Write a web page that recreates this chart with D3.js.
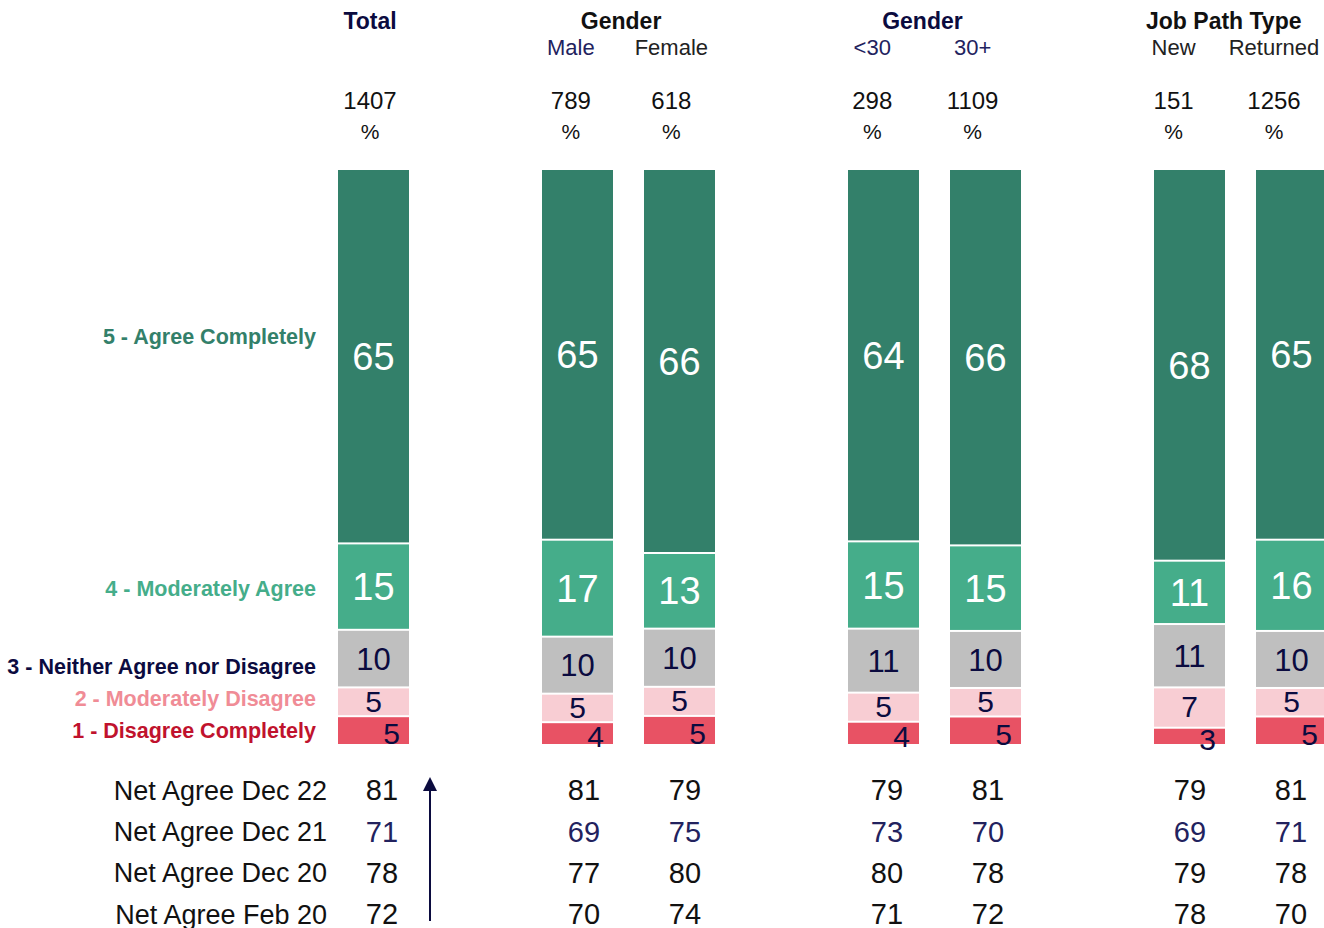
<!DOCTYPE html>
<html>
<head>
<meta charset="utf-8">
<script src="https://cdn.jsdelivr.net/npm/d3@7"></script>
<style>
  body { margin: 0; background: #fff; }
  svg { display: block; }
</style>
</head>
<body>
<div id="chart"></div>
<script>
// Columns and their groups
var groupTitles = ["Total", "Gender", "Gender", "Job Path Type"];
var columnGroup = [0, 1, 1, 2, 2, 3, 3];
var subLabels = ["", "Male", "Female", "<30", "30+", "New", "Returned"];
var bases = [1407, 789, 618, 298, 1109, 151, 1256];

// Response levels, top of the bar first
var levels = ["5 - Agree Completely", "4 - Moderately Agree", "3 - Neither Agree nor Disagree",
  "2 - Moderately Disagree", "1 - Disagree Completely"];
var agreeCompletely = [65, 65, 66, 64, 66, 68, 65];
var moderatelyAgree = [15, 17, 13, 15, 15, 11, 16];
var neither = [10, 10, 10, 11, 10, 11, 10];
var moderatelyDisagree = [5, 5, 5, 5, 5, 7, 5];
var disagreeCompletely = [5, 4, 5, 4, 5, 3, 5];

// Net agree rows
var netLabels = ["Net Agree Dec 22", "Net Agree Dec 21", "Net Agree Dec 20", "Net Agree Feb 20"];
var netDec22 = [81, 81, 79, 79, 81, 79, 81];
var netDec21 = [71, 69, 75, 73, 70, 69, 71];
var netDec20 = [78, 77, 80, 80, 78, 79, 78];
var netFeb20 = [72, 70, 74, 71, 72, 78, 70];

var width = 1324, height = 928;
var navy = "#0b0b3f", navySoft = "#22225e";
var segColors = ["#33806a", "#45ad8a", "#bfbfbf", "#f8cdd3", "#e85264"];
var legendColors = ["#33806a", "#45ad8a", "#0b0b3f", "#f08c96", "#c0122d"];
var labelColors = ["#ffffff", "#ffffff", navy, navy, navy];
var labelSizes = ["38px", "38px", "31px", "30px", "30px"];
// the thin bottom labels sit to the right so they clear the pink ones
var labelDx = [0, 0, 0, 0, 18];
var labelDy = [0, 0, 0, -1, 3];

var sans = '"Liberation Sans", Arial, sans-serif';
var narrow = '"Liberation Sans Narrow", "Arial Narrow", "Liberation Sans", sans-serif';

var svg = d3.select("#chart").append("svg")
  .attr("width", width)
  .attr("height", height);

// one slot per column plus an empty slot between groups
var slots = columnGroup.map(function(g, i) { return i + g; });

var x = d3.scaleLinear().domain([0, 9]).range([373.5, 1291.5]);
var xHead = d3.scaleLinear().domain([0, 9]).range([370, 1274]);
var xNet = d3.scaleLinear().domain([0, 9]).range([382, 1291]);
var barWidth = 71;
var y = d3.scaleLinear().domain([0, 1]).range([745, 169]);

var series = [agreeCompletely, moderatelyAgree, neither, moderatelyDisagree, disagreeCompletely];
var rows = subLabels.map(function(d, i) {
  var r = { col: i };
  levels.forEach(function(l, k) { r[l] = series[k][i]; });
  return r;
});
// stack from the bottom (level 1) upward, expanded to the full bar height
var stacked = d3.stack()
  .keys(levels.slice().reverse())
  .offset(d3.stackOffsetExpand)(rows);

stacked.forEach(function(layer) {
  var k = levels.indexOf(layer.key);
  svg.append("g").attr("class", "layer").selectAll("rect")
    .data(layer)
    .enter().append("rect")
      .attr("x", function(d, i) { return x(slots[i]) - barWidth / 2; })
      .attr("y", function(d) { return y(d[1]) + 1; })
      .attr("width", barWidth)
      .attr("height", function(d) { return Math.max(0, y(d[0]) - y(d[1]) - 2); })
      .style("fill", segColors[k]);
});
// labels drawn after all rects so nothing hides them
stacked.forEach(function(layer) {
  var k = levels.indexOf(layer.key);
  svg.append("g").selectAll("text")
    .data(layer)
    .enter().append("text")
      .text(function(d, i) { return series[k][i]; })
      .attr("x", function(d, i) { return x(slots[i]) + labelDx[k]; })
      .attr("y", function(d) { return (y(d[0]) + y(d[1])) / 2 + labelDy[k]; })
      .attr("dy", "0.36em")
      .style("text-anchor", "middle")
      .style("font-family", sans)
      .style("font-size", labelSizes[k])
      .style("fill", labelColors[k]);
});

// Legend labels beside the Total bar
var totalLayers = {};
stacked.forEach(function(layer) { totalLayers[layer.key] = layer[0]; });
var legendShift = [-20, 2, 8, -4, 0];
svg.selectAll(".legend")
  .data(levels)
  .enter().append("text")
    .attr("class", "legend")
    .text(function(d) { return d; })
    .attr("x", 316)
    .attr("y", function(d, k) {
      var s = totalLayers[d];
      return (y(s[0]) + y(s[1])) / 2 + legendShift[k];
    })
    .attr("dy", "0.36em")
    .style("text-anchor", "end")
    .style("font-family", narrow)
    .style("font-weight", "bold")
    .style("font-size", "21.5px")
    .style("fill", function(d, k) { return legendColors[k]; });

// Header: group titles
var groupCols = groupTitles.map(function(t, gi) {
  return slots.filter(function(s, i) { return columnGroup[i] == gi; });
});
svg.selectAll(".group-title")
  .data(groupTitles)
  .enter().append("text")
    .text(function(d) { return d; })
    .attr("x", function(d, gi) { return xHead(d3.mean(groupCols[gi])); })
    .attr("y", 21)
    .attr("dy", "0.36em")
    .style("text-anchor", "middle")
    .style("font-family", narrow)
    .style("font-weight", "bold")
    .style("font-size", "23px")
    .style("fill", function(d, gi) { return (gi == 0 || gi == 2) ? navy : "#111"; });

var subColors = [navy, navySoft, "#222", navySoft, navySoft, "#222", "#222"];
svg.selectAll(".sub-label")
  .data(subLabels)
  .enter().append("text")
    .text(function(d) { return d; })
    .attr("x", function(d, i) { return xHead(slots[i]); })
    .attr("y", 47)
    .attr("dy", "0.36em")
    .style("text-anchor", "middle")
    .style("font-family", sans)
    .style("font-size", "22px")
    .style("fill", function(d, i) { return subColors[i]; });

svg.selectAll(".base")
  .data(bases)
  .enter().append("text")
    .text(function(d) { return d; })
    .attr("x", function(d, i) { return xHead(slots[i]); })
    .attr("y", 100)
    .attr("dy", "0.36em")
    .style("text-anchor", "middle")
    .style("font-family", sans)
    .style("font-size", "24px")
    .style("fill", "#111");

svg.selectAll(".pct")
  .data(bases)
  .enter().append("text")
    .text("%")
    .attr("x", function(d, i) { return xHead(slots[i]); })
    .attr("y", 131)
    .attr("dy", "0.36em")
    .style("text-anchor", "middle")
    .style("font-family", sans)
    .style("font-size", "21px")
    .style("fill", "#111");

// Net agree rows
var netRows = [netDec22, netDec21, netDec20, netFeb20];
var yNet = d3.scalePoint().domain(netLabels).range([790, 914]);
netLabels.forEach(function(label, r) {
  var color = r == 1 ? navySoft : "#111";
  svg.append("text")
    .text(label)
    .attr("x", 327)
    .attr("y", yNet(label))
    .attr("dy", "0.36em")
    .style("text-anchor", "end")
    .style("font-family", narrow)
    .style("font-size", "27px")
    .style("fill", "#111");
  svg.selectAll(".net-" + r)
    .data(netRows[r])
    .enter().append("text")
      .text(function(d) { return d; })
      .attr("x", function(d, i) { return xNet(slots[i]); })
      .attr("y", yNet(label))
      .attr("dy", "0.36em")
      .style("text-anchor", "middle")
      .style("font-family", narrow)
      .style("font-size", "29px")
      .style("fill", color);
});

// Upward trend arrow
svg.append("defs").append("marker")
  .attr("id", "arrowhead")
  .attr("viewBox", "0 0 10 10")
  .attr("refX", 5).attr("refY", 5)
  .attr("markerWidth", 7).attr("markerHeight", 8)
  .attr("orient", "auto")
  .append("path")
    .attr("d", "M0,0 L10,5 L0,10 z")
    .style("fill", navy);
svg.append("line")
  .attr("x1", 430).attr("y1", 921)
  .attr("x2", 430).attr("y2", 784)
  .attr("marker-end", "url(#arrowhead)")
  .style("stroke", navy)
  .style("stroke-width", 2);
</script>
</body>
</html>
